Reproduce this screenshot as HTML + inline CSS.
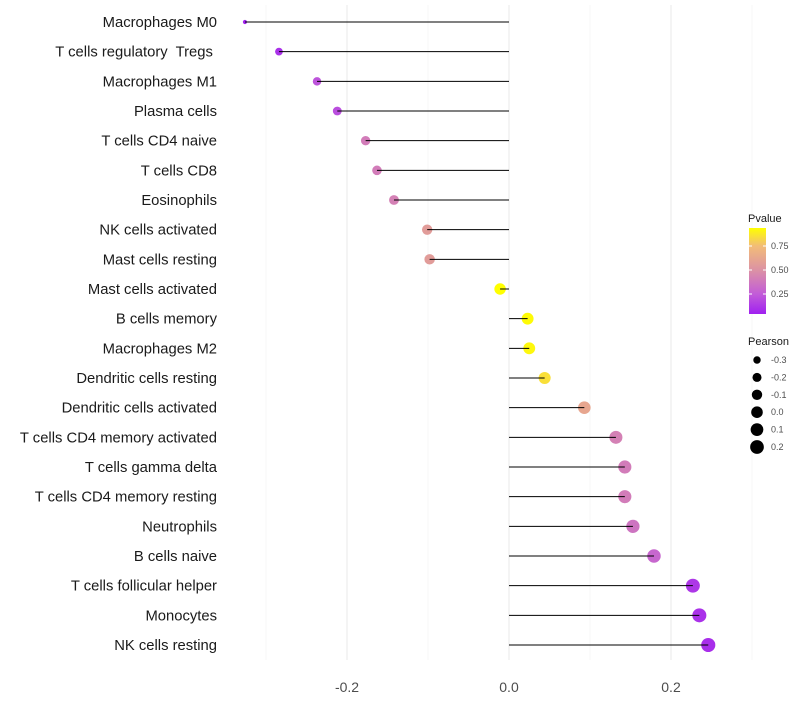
<!DOCTYPE html>
<html><head><meta charset="utf-8"><style>
body{margin:0;background:#fff;font-family:"Liberation Sans",sans-serif}
text{white-space:pre}
</style></head><body>
<svg id="c" width="800" height="700" xmlns="http://www.w3.org/2000/svg">
<defs><linearGradient id="g" x1="0" y1="1" x2="0" y2="0">
<stop offset="0" stop-color="#A020F0"/><stop offset="0.233" stop-color="#C25CD8"/><stop offset="0.511" stop-color="#DC92A4"/><stop offset="0.789" stop-color="#F2BC78"/><stop offset="1" stop-color="#FFFF00"/></linearGradient></defs>
<g id="grid"></g><g id="marks"></g><g id="stems"></g><g id="labels"></g>
</svg>
<script>
const categories=["Macrophages M0","T cells regulatory  Tregs ","Macrophages M1","Plasma cells","T cells CD4 naive","T cells CD8","Eosinophils","NK cells activated","Mast cells resting","Mast cells activated","B cells memory","Macrophages M2","Dendritic cells resting","Dendritic cells activated","T cells CD4 memory activated","T cells gamma delta","T cells CD4 memory resting","Neutrophils","B cells naive","T cells follicular helper","Monocytes","NK cells resting"];
const pearson=[-0.326,-0.284,-0.237,-0.212,-0.177,-0.163,-0.142,-0.101,-0.098,-0.011,0.023,0.025,0.044,0.093,0.132,0.143,0.143,0.153,0.179,0.227,0.235,0.246];
const pvalue=[0.05,0.1,0.22,0.2,0.4,0.4,0.42,0.56,0.56,0.95,0.93,0.92,0.85,0.62,0.42,0.4,0.4,0.36,0.3,0.12,0.1,0.09];
const xTicks=[-0.2,0.0,0.2];
const sizeBreaks=[-0.3,-0.2,-0.1,0.0,0.1,0.2];
const NS="http://www.w3.org/2000/svg";
const svg=document.getElementById('c');
const x=v=>509+v*810;
const y=i=>22+i*(623/21);
const r=v=>Math.sqrt(Math.max(2.5,18+66*(v+0.237)-(v<-0.3?300*(-0.3-v):0)));
const stops=[[0,[160,32,240]],[0.233,[194,92,216]],[0.511,[220,146,164]],[0.789,[242,188,120]],[1,[255,255,0]]];
function col(p){const t=Math.max(0,Math.min(1,(p-0.04)/0.9));
 for(let k=1;k<stops.length;k++){if(t<=stops[k][0]){const [t0,a]=stops[k-1],[t1,b]=stops[k];const s=(t-t0)/(t1-t0);
 return `rgb(${a.map((v,j)=>Math.round(v+(b[j]-v)*s)).join(',')})`;}}
 return 'rgb(255,255,0)';}
function el(tag,attrs,parent,text){const e=document.createElementNS(NS,tag);for(const k in attrs)e.setAttribute(k,attrs[k]);if(text!==undefined)e.textContent=text;parent.appendChild(e);return e;}
const grid=document.getElementById('grid'),marks=document.getElementById('marks'),stems=document.getElementById('stems'),labels=document.getElementById('labels');
[-0.3,-0.1,0.1,0.3].forEach(v=>{const l=el('line',{x1:x(v),x2:x(v),y1:5,y2:660,stroke:'#f2f2f2','stroke-width':0.6},grid);

});
xTicks.forEach(v=>{const l=el('line',{x1:x(v),x2:x(v),y1:5,y2:660,stroke:'#ebebeb','stroke-width':1.1},grid);


const t=el('text',{x:x(v),y:692,'text-anchor':'middle','font-size':14,fill:'#4d4d4d'},labels,v.toFixed(1));

});
categories.forEach((c,i)=>{
 const t=el('text',{x:217,y:y(i)+5,'text-anchor':'end','font-size':14.8,fill:'#1a1a1a'},labels,c);
 
 
 const d=el('circle',{cx:x(pearson[i]),cy:y(i),r:r(pearson[i]),fill:col(pvalue[i])},marks);
 
 
 const l=el('line',{x1:x(0),x2:x(pearson[i]),y1:y(i),y2:y(i),stroke:'#000','stroke-width':1},stems);
 
 
});
const lg=el('g',{},svg);


el('text',{x:748,y:222,'font-size':11,fill:'#1a1a1a'},lg,'Pvalue');
el('rect',{x:749,y:228,width:17,height:86,fill:'url(#g)'},lg);
[[0.75,246],[0.5,270],[0.25,294]].forEach(([v,yy])=>{el('line',{x1:749,x2:752,y1:yy,y2:yy,stroke:'#fff'},lg);el('line',{x1:763,x2:766,y1:yy,y2:yy,stroke:'#fff'},lg);el('text',{x:771,y:yy+3,'font-size':9,fill:'#4d4d4d'},lg,v.toFixed(2));});
const sg=el('g',{},svg);


el('text',{x:748,y:345,'font-size':11,fill:'#1a1a1a'},sg,'Pearson');
sizeBreaks.forEach((v,k)=>{const yy=360+k*17.4;el('circle',{cx:757,cy:yy,r:r(v),fill:'#000'},sg);el('text',{x:771,y:yy+3,'font-size':9,fill:'#4d4d4d'},sg,v.toFixed(1));});
</script>
</body></html>
